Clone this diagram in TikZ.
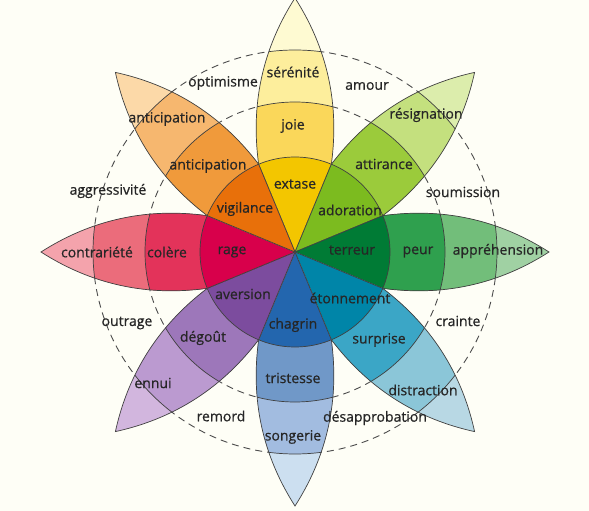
\documentclass[tikz,border=0pt]{standalone}
\usepackage{fontspec}
\setmainfont{Open Sans}[FakeBold=0.7]
\definecolor{bgcream}{HTML}{FEFEF6}
\definecolor{joyA}{HTML}{F3C600}\definecolor{joyB}{HTML}{FAD75A}\definecolor{joyC}{HTML}{FDEE9C}\definecolor{joyD}{HTML}{FEFAD2}
\definecolor{trustA}{HTML}{7CBB1F}\definecolor{trustB}{HTML}{9BCB3B}\definecolor{trustC}{HTML}{C4E07E}\definecolor{trustD}{HTML}{DCEDAC}
\definecolor{fearA}{HTML}{007B35}\definecolor{fearB}{HTML}{2FA04E}\definecolor{fearC}{HTML}{72BE7A}\definecolor{fearD}{HTML}{A0D1A3}
\definecolor{surpA}{HTML}{0085A8}\definecolor{surpB}{HTML}{3BA6C6}\definecolor{surpC}{HTML}{8BC6D8}\definecolor{surpD}{HTML}{B8D8E4}
\definecolor{sadA}{HTML}{2366AE}\definecolor{sadB}{HTML}{7098C8}\definecolor{sadC}{HTML}{A2BCE0}\definecolor{sadD}{HTML}{CCDFF0}
\definecolor{disgA}{HTML}{7C4C9E}\definecolor{disgB}{HTML}{9D77BA}\definecolor{disgC}{HTML}{BB9AD0}\definecolor{disgD}{HTML}{D2B6DE}
\definecolor{angerA}{HTML}{D8004B}\definecolor{angerB}{HTML}{E3335A}\definecolor{angerC}{HTML}{EB6C7B}\definecolor{angerD}{HTML}{F4A3AC}
\definecolor{anticA}{HTML}{E8700A}\definecolor{anticB}{HTML}{F09A3B}\definecolor{anticC}{HTML}{F6B76F}\definecolor{anticD}{HTML}{FCD9A8}
\begin{document}
\begin{tikzpicture}[x=1pt,y=1pt,
  emotion/.style={font=\fontsize{14}{14}\selectfont, text=black!85, inner sep=0pt},
  petal edge/.style={draw=black!75, line width=0.7pt},
  guide/.style={draw=black!70, dash pattern=on 7pt off 5pt, line width=0.9pt}]
\fill[bgcream] (-295,-259) rectangle (294,252);
\useasboundingbox (-295,-259) rectangle (294,252);
\draw[guide] (0,0) circle (150);
\draw[guide] (0,0) circle (202);
\foreach \ang/\ca/\cb/\cc/\cd in {90/joyA/joyB/joyC/joyD, 45/trustA/trustB/trustC/trustD,
    0/fearA/fearB/fearC/fearD, -45/surpA/surpB/surpC/surpD, -90/sadA/sadB/sadC/sadD,
    -135/disgA/disgB/disgC/disgD, 180/angerA/angerB/angerC/angerD, 135/anticA/anticB/anticC/anticD}{
  \begin{scope}[rotate=\ang]
    \begin{scope}
      \clip (0,0) -- (22.5:95) .. controls (130,42) and (190,41) .. (254,0)
        .. controls (190,-41) and (130,-42) .. (-22.5:95) -- cycle;
      \fill[\cd] (0,0) circle (260);
      \fill[\cc] (0,0) circle (202);
      \fill[\cb] (0,0) circle (150);
      \fill[\ca] (0,0) circle (95);
      \draw[petal edge] (0,0) circle (202) (0,0) circle (150) (0,0) circle (95);
    \end{scope}
    \draw[petal edge] (0,0) -- (22.5:95) .. controls (130,42) and (190,41) .. (254,0)
      .. controls (190,-41) and (130,-42) .. (-22.5:95) -- cycle;
  \end{scope}
}
\node[emotion] (extase) at (0,68) {extase};
\node[emotion] (adoration) at (55,42) {adoration};
\node[emotion] (terreur) at (57,2) {terreur};
\node[emotion] (etonnement) at (55,-46) {étonnement};
\node[emotion] (chagrin) at (-2,-73) {chagrin};
\node[emotion] (aversion) at (-52,-42) {aversion};
\node[emotion] (rage) at (-63,0) {rage};
\node[emotion] (vigilance) at (-50,43) {vigilance};
\node[emotion] (joie) at (-2,126) {joie};
\node[emotion] (attirance) at (89,88) {attirance};
\node[emotion] (peur) at (123,0) {peur};
\node[emotion] (surprise) at (84,-88) {surprise};
\node[emotion] (tristesse) at (-2,-126) {tristesse};
\node[emotion] (degout) at (-92,-86) {dégoût};
\node[emotion] (colere) at (-128,0) {colère};
\node[emotion] (anticipationA) at (-87,86) {anticipation};
\node[emotion] (serenite) at (-2,180) {sérénité};
\node[emotion] (resignation) at (131,137) {résignation};
\node[emotion] (apprehension) at (203,1) {appréhension};
\node[emotion] (distraction) at (128,-138) {distraction};
\node[emotion] (songerie) at (-2,-185) {songerie};
\node[emotion] (ennui) at (-142,-131) {ennui};
\node[emotion] (contrariete) at (-198,0) {contrariété};
\node[emotion] (anticipationB) at (-128,133) {anticipation};
\node[emotion] (optimisme) at (-72,169) {optimisme};
\node[emotion] (amour) at (72,166) {amour};
\node[emotion] (soumission) at (168,60) {soumission};
\node[emotion] (crainte) at (163,-69) {crainte};
\node[emotion] (desapprobation) at (80,-166) {désapprobation};
\node[emotion] (remord) at (-74,-164) {remord};
\node[emotion] (outrage) at (-168,-71) {outrage};
\node[emotion] (aggressivite) at (-187,61) {aggressivité};
\end{tikzpicture}
\end{document}
